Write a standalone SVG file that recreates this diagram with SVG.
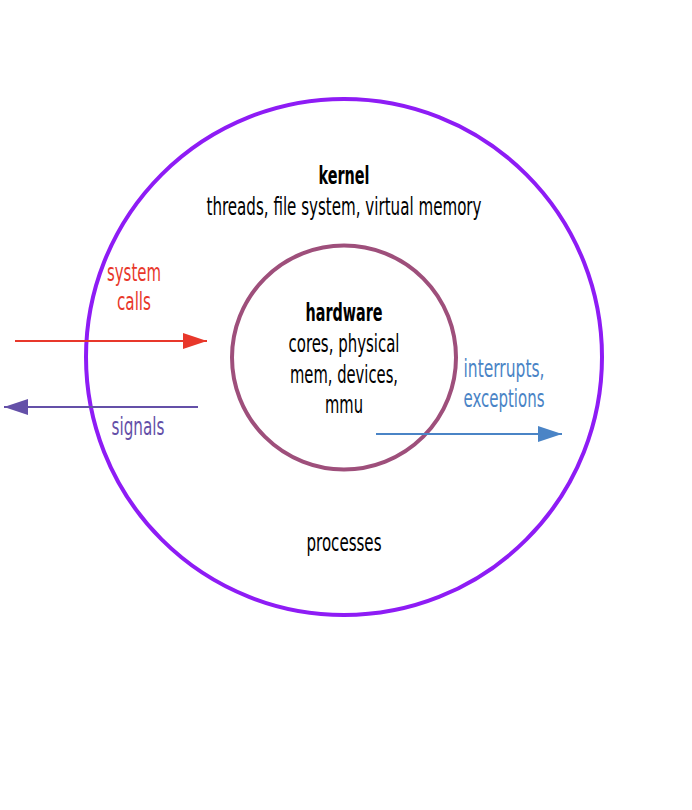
<svg xmlns="http://www.w3.org/2000/svg" width="692" height="810" viewBox="0 0 692 810">
<style>
text{font-family:"Liberation Sans Narrow","DejaVu Sans Condensed","Liberation Sans",sans-serif;font-size:24px;text-anchor:middle}
.b{font-weight:bold}
</style>
<defs>
<marker id="mr" viewBox="0 0 24 16" refX="24" refY="8" markerWidth="24" markerHeight="16" markerUnits="userSpaceOnUse" orient="auto"><path d="M0,0L24,8L0,16z" fill="#E8382B"/></marker>
<marker id="mp" viewBox="0 0 24 16" refX="24" refY="8" markerWidth="24" markerHeight="16" markerUnits="userSpaceOnUse" orient="auto"><path d="M0,0L24,8L0,16z" fill="#6450A8"/></marker>
<marker id="mb" viewBox="0 0 24 16" refX="24" refY="8" markerWidth="24" markerHeight="16" markerUnits="userSpaceOnUse" orient="auto"><path d="M0,0L24,8L0,16z" fill="#4A84C6"/></marker>
</defs>
<rect width="692" height="810" fill="#fff"/>
<g id="kernel">
<circle cx="344" cy="357" r="258" fill="none" stroke="#8E1CF5" stroke-width="4"/>
<text class="b" x="344" y="184" textLength="51" lengthAdjust="spacingAndGlyphs">kernel</text>
<text x="344" y="215" textLength="275" lengthAdjust="spacingAndGlyphs">threads, file system, virtual memory</text>
<text x="344" y="551" textLength="75" lengthAdjust="spacingAndGlyphs">processes</text>
</g>
<g id="hardware">
<circle cx="344" cy="357.5" r="112" fill="none" stroke="#9E4F7B" stroke-width="4"/>
<text class="b" x="344" y="321" textLength="77" lengthAdjust="spacingAndGlyphs">hardware</text>
<text x="344" y="352" textLength="111" lengthAdjust="spacingAndGlyphs">cores, physical</text>
<text x="344" y="383" textLength="108" lengthAdjust="spacingAndGlyphs">mem, devices,</text>
<text x="344" y="413" textLength="38" lengthAdjust="spacingAndGlyphs">mmu</text>
</g>
<g id="connectors" stroke-width="2" fill="none">
<line x1="15" y1="341" x2="207" y2="341" stroke="#E8382B" marker-end="url(#mr)"/>
<line x1="198" y1="407" x2="4" y2="407" stroke="#6450A8" marker-end="url(#mp)"/>
<line x1="376" y1="434" x2="562" y2="434" stroke="#4A84C6" marker-end="url(#mb)"/>
</g>
<g id="labels">
<text x="134" y="281" fill="#E8382B" textLength="54" lengthAdjust="spacingAndGlyphs">system</text>
<text x="134" y="310" fill="#E8382B" textLength="34" lengthAdjust="spacingAndGlyphs">calls</text>
<text x="138" y="435" fill="#6450A8" textLength="53" lengthAdjust="spacingAndGlyphs">signals</text>
<text x="504" y="377" fill="#4A84C6" textLength="81" lengthAdjust="spacingAndGlyphs">interrupts,</text>
<text x="504" y="407" fill="#4A84C6" textLength="81" lengthAdjust="spacingAndGlyphs">exceptions</text>
</g>
</svg>
